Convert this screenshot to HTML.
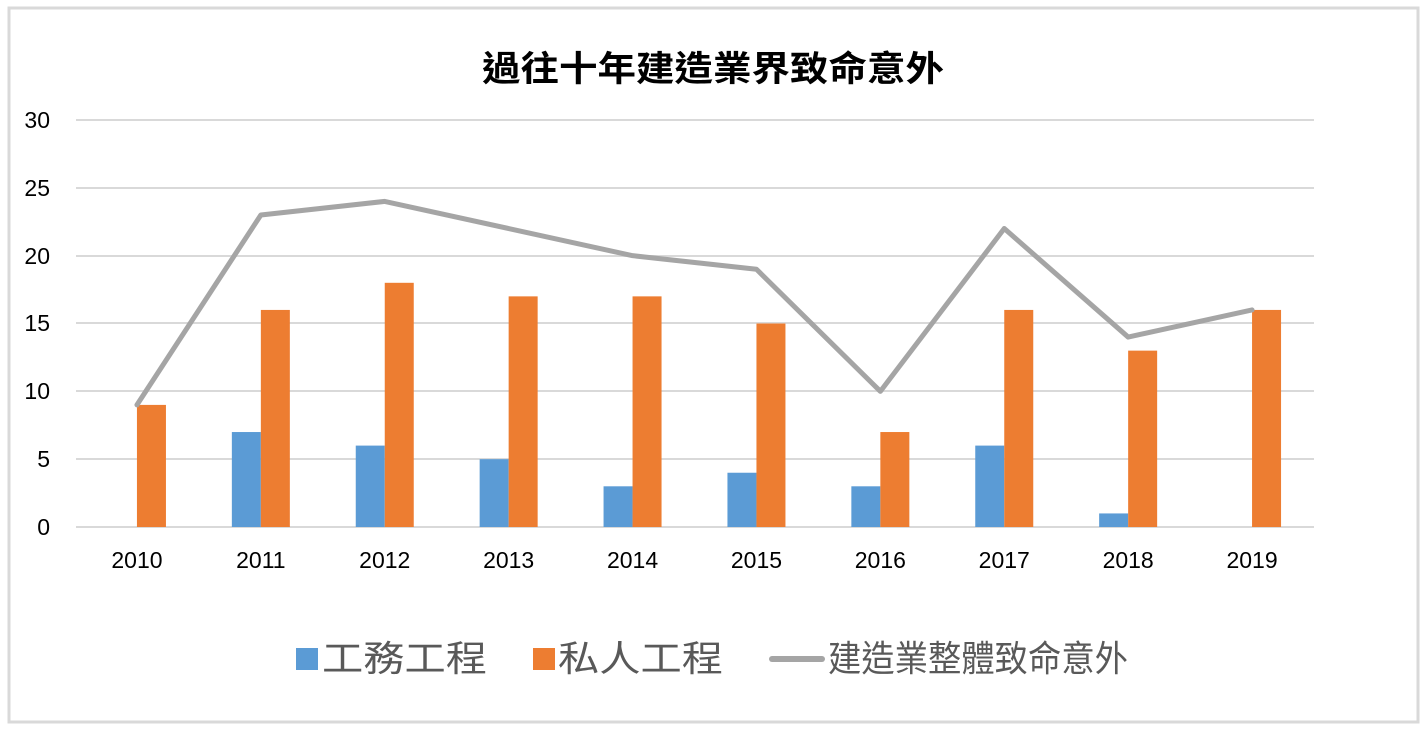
<!DOCTYPE html>
<html><head><meta charset="utf-8"><style>
html,body{margin:0;padding:0;background:#fff;}
svg{display:block;}
text{font-family:"Liberation Sans","Noto Sans CJK TC",sans-serif;}
</style></head><body>
<svg width="1426" height="729" viewBox="0 0 1426 729">
<rect x="9" y="8" width="1409" height="714" fill="#fff" stroke="#d9d9d9" stroke-width="3"/>
<text x="482" y="81" font-size="35" font-weight="bold" fill="#000" textLength="462" lengthAdjust="spacingAndGlyphs">過往十年建造業界致命意外</text>
<g stroke="#d9d9d9" stroke-width="2">
<line x1="76" y1="120" x2="1314" y2="120"/>
<line x1="76" y1="188" x2="1314" y2="188"/>
<line x1="76" y1="256" x2="1314" y2="256"/>
<line x1="76" y1="323" x2="1314" y2="323"/>
<line x1="76" y1="391" x2="1314" y2="391"/>
<line x1="76" y1="459" x2="1314" y2="459"/>
<line x1="76" y1="527" x2="1314" y2="527"/>
</g>
<g font-size="23" fill="#000" text-anchor="end">
<text x="50" y="128">30</text><text x="50" y="196">25</text><text x="50" y="264">20</text>
<text x="50" y="331">15</text><text x="50" y="399">10</text><text x="50" y="467">5</text><text x="50" y="535">0</text>
</g>
<g id="bars"></g>
<g font-size="23" fill="#000" text-anchor="middle" id="xl"></g>
<polyline id="ln" fill="none" stroke="#a5a5a5" stroke-width="5" stroke-linejoin="round" stroke-linecap="round"/>
<rect x="296" y="648" width="22" height="22" fill="#5b9bd5"/>
<text x="322" y="671" font-size="36" fill="#595959" textLength="165" lengthAdjust="spacingAndGlyphs">工務工程</text>
<rect x="533" y="648" width="22" height="22" fill="#ed7d31"/>
<text x="558" y="671" font-size="36" fill="#595959" textLength="165" lengthAdjust="spacingAndGlyphs">私人工程</text>
<line x1="772" y1="659" x2="822" y2="659" stroke="#a5a5a5" stroke-width="6" stroke-linecap="round"/>
<text x="828" y="671" font-size="36" fill="#595959" textLength="300" lengthAdjust="spacingAndGlyphs">建造業整體致命意外</text>
</svg>
<script>
var pub=[0,7,6,5,3,4,3,6,1,0],pri=[9,16,18,17,17,15,7,16,13,16],tot=[9,23,24,22,20,19,10,22,14,16];
var ns="http://www.w3.org/2000/svg",b=document.getElementById("bars"),xl=document.getElementById("xl"),pts=[];
function y(v){return 527-v*407/30;}
for(var i=0;i<10;i++){var c=75+123.9*(i+0.5);
if(pub[i]){var r=document.createElementNS(ns,"rect");r.setAttribute("x",c-29);r.setAttribute("y",y(pub[i]));r.setAttribute("width",29);r.setAttribute("height",527-y(pub[i]));r.setAttribute("fill","#5b9bd5");b.appendChild(r);}
var r2=document.createElementNS(ns,"rect");r2.setAttribute("x",c);r2.setAttribute("y",y(pri[i]));r2.setAttribute("width",29);r2.setAttribute("height",527-y(pri[i]));r2.setAttribute("fill","#ed7d31");b.appendChild(r2);
var t=document.createElementNS(ns,"text");t.setAttribute("x",c);t.setAttribute("y",568);t.textContent=2010+i;xl.appendChild(t);
pts.push(c+","+y(tot[i]));}
document.getElementById("ln").setAttribute("points",pts.join(" "));
</script>
</body></html>
